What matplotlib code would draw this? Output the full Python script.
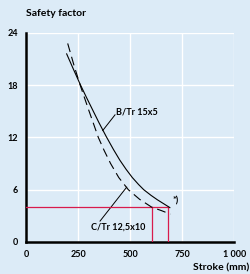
import matplotlib.pyplot as plt

# values
stroke_b = [195, 230, 260, 290, 320, 350, 385, 420, 450, 480, 510, 540, 565, 600, 630, 660, 690]
safety_b = [21.6, 19.7, 18.1, 16.6, 15.15, 13.7, 12.1, 10.6, 9.4, 8.35, 7.4, 6.6, 6.0, 5.35, 4.85, 4.4, 3.95]

stroke_c = [200, 230, 260, 300, 325, 347, 375, 406, 445, 491, 545, 603, 650, 692]
safety_c = [22.8, 20.3, 18.0, 15.2, 13.5, 12.0, 10.5, 9.0, 7.4, 6.0, 4.9, 4.0, 3.6, 3.2]

marker_y = 4
marker_x = [603, 683]

xticks = [0, 250, 500, 750, 1000]
xlabels = ['0', '250', '500', '750', '1 000']
yticks = [0, 6, 12, 18, 24]

bg = '#dcebf7'
red = '#d81b4c'
plt.rcParams['font.family'] = ['Lato', 'DejaVu Sans']

fig = plt.figure(figsize=(2.51, 2.74), dpi=100, facecolor=bg)
ax = fig.add_axes([0.1036, 0.1168, 0.8306, 0.7628], facecolor=bg)

# red markers
ax.plot([0, marker_x[1]], [marker_y, marker_y], color=red, lw=0.9, zorder=3)
for mx in marker_x:
    ax.plot([mx, mx], [0, marker_y], color=red, lw=0.9, zorder=3)

ax.plot(stroke_b, safety_b, color='black', lw=0.8, zorder=4)
ax.plot(stroke_c, safety_c, color='black', lw=0.8, dashes=(8, 4.5), zorder=4)

# labels with leader lines
ax.text(432, 14.9, 'B/Tr 15x5', fontsize=6.5, fontweight='bold', va='center', ha='left')
ax.plot([368, 427], [12.8, 14.6], color='black', lw=0.7)
ax.text(312, 1.72, 'C/Tr 12,5x10', fontsize=6.5, fontweight='bold', va='center', ha='left')
ax.plot([355, 483], [2.4, 6.3], color='black', lw=0.7)
ax.text(702, 4.7, '*)', fontsize=6.5, fontweight='bold', va='center', ha='left')

ax.set_xlim(0, 1000)
ax.set_ylim(0, 24)
ax.set_xticks(xticks)
ax.set_xticklabels(xlabels)
ax.set_yticks(yticks)
ax.grid(True, color='white', lw=1)
ax.set_axisbelow(True)
ax.tick_params(length=0, labelsize=6.5, pad=6)
for lab in ax.get_xticklabels() + ax.get_yticklabels():
    lab.set_fontweight('bold')

for side in ['top', 'right']:
    ax.spines[side].set_visible(False)
ax.spines['left'].set_linewidth(1.8)
ax.spines['bottom'].set_linewidth(1.8)

fig.text(26 / 251, 1 - 13 / 274, 'Safety factor', fontsize=7.5, fontweight='bold', va='center', ha='left')
fig.text(249 / 251, 1 - 268 / 274, 'Stroke (mm)', fontsize=7.5, fontweight='bold', va='center', ha='right')

fig.savefig('out.png', dpi=100, facecolor=bg)
